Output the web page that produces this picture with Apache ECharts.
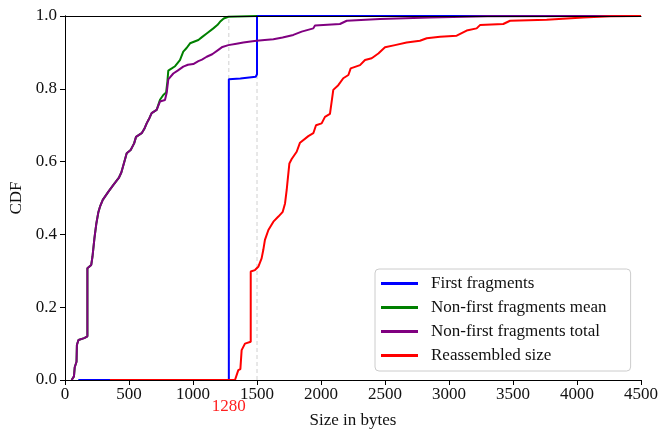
<!DOCTYPE html>
<html>
<head>
<meta charset="utf-8">
<script src="https://cdn.jsdelivr.net/npm/echarts@6/dist/echarts.min.js"></script>
<style>html,body{margin:0;padding:0;background:#fff}#c{width:660px;height:432px}</style>
</head>
<body>
<div id="c"></div>
<script>
const seriesNames = ['First fragments', 'Non-first fragments mean', 'Non-first fragments total', 'Reassembled size'];
const seriesColors = ['#0000ff', '#008000', '#800080', '#ff0000'];
const xTicks = [0, 500, 1000, 1500, 2000, 2500, 3000, 3500, 4000, 4500];
const yTicks = [0, 0.2, 0.4, 0.6, 0.8, 1.0];
const refLines = [1280, 1500];
const refLabel = [1280];

const firstX = [104, 1280, 1280, 1370, 1380, 1490, 1500, 1500, 4500];
const firstY = [0, 0, 0.826, 0.828, 0.832, 0.833, 0.840, 1.0, 1.0];

const totalX = [52,70,76,80,90,93,105,150,175,175,205,215,230,245,260,275,295,338,378,420,440,456,482,513,540,555,599,620,638,660,677,716,742,781,795,807,846,880,924,960,1002,1042,1070,1107,1150,1198,1230,1276,1340,1393,1450,1497,1560,1628,1700,1784,1849,1940,1953,2148,2201,2461,2852,3300,4500];
const totalY = [0,0.01,0.035,0.04,0.05,0.096,0.11,0.115,0.12,0.307,0.316,0.34,0.39,0.43,0.46,0.478,0.495,0.517,0.536,0.555,0.57,0.59,0.623,0.632,0.65,0.668,0.678,0.69,0.705,0.72,0.733,0.742,0.765,0.769,0.79,0.826,0.842,0.85,0.861,0.866,0.868,0.876,0.88,0.888,0.895,0.907,0.915,0.920,0.924,0.927,0.930,0.932,0.934,0.936,0.941,0.948,0.957,0.966,0.974,0.978,0.987,0.992,0.996,0.999,1.0];

const meanX = [52,70,76,80,90,93,105,150,175,175,205,215,230,245,260,275,295,338,378,420,440,456,482,513,540,555,599,620,638,660,677,716,742,768,790,800,807,834,860,898,924,950,977,1042,1070,1107,1159,1190,1211,1240,1276,1500];
const meanY = [0,0.01,0.035,0.04,0.05,0.096,0.11,0.115,0.12,0.307,0.316,0.34,0.39,0.43,0.46,0.478,0.495,0.517,0.536,0.555,0.57,0.59,0.623,0.632,0.65,0.668,0.678,0.69,0.705,0.72,0.733,0.742,0.770,0.783,0.79,0.82,0.850,0.856,0.862,0.879,0.902,0.912,0.925,0.934,0.942,0.952,0.966,0.975,0.984,0.993,0.998,1.0];

const reasmX = [351,1328,1354,1370,1380,1406,1451,1451,1484,1510,1536,1549,1562,1589,1628,1667,1701,1719,1732,1737,1753,1771,1810,1836,1901,1940,1961,2005,2031,2070,2096,2135,2174,2214,2232,2305,2344,2396,2448,2500,2578,2669,2773,2826,2930,3060,3073,3138,3216,3242,3424,3477,3763,4049,4258,4500];
const reasmY = [0,0,0.027,0.03,0.082,0.10,0.105,0.298,0.302,0.311,0.334,0.357,0.385,0.412,0.435,0.449,0.462,0.485,0.522,0.540,0.595,0.607,0.627,0.652,0.670,0.678,0.70,0.705,0.723,0.731,0.797,0.810,0.829,0.838,0.856,0.865,0.879,0.884,0.897,0.914,0.920,0.927,0.932,0.939,0.943,0.946,0.951,0.960,0.966,0.975,0.978,0.987,0.990,0.996,0.999,1.0];

const zip = (xs, ys) => xs.map((x, i) => [x, ys[i]]);
const allData = [zip(firstX, firstY), zip(meanX, meanY), zip(totalX, totalY), zip(reasmX, reasmY)];

const FONT = 'Liberation Serif';
const FS = 17;
const chart = echarts.init(document.getElementById('c'), null, {renderer: 'canvas'});

const series = refLines.map(v => ({
  type: 'line', data: [[v, yTicks[0]], [v, yTicks[yTicks.length - 1]]], silent: true, z: 1,
  showSymbol: false, symbol: 'none', xAxisIndex: 0, yAxisIndex: 0,
  lineStyle: {type: [4, 3], color: '#d0d0d0', width: 1}, animation: false
})).concat(seriesNames.map((name, i) => ({
  name, type: 'line', data: allData[i], showSymbol: false, symbol: 'none',
  xAxisIndex: 0, yAxisIndex: 0,
  lineStyle: {color: seriesColors[i], width: 2}, itemStyle: {color: seriesColors[i]},
  z: 3 + i, animation: false
})));

const spine = {show: true, lineStyle: {color: '#000', width: 1}};
chart.setOption({
  animation: false,
  grid: {left: 65, right: 19, top: 16, bottom: 52, containLabel: false, outerBoundsMode: 'none'},
  legend: {
    data: seriesNames,
    orient: 'vertical', left: 375, top: 269,
    icon: 'rect', itemWidth: 37, itemHeight: 3, itemGap: 7,
    padding: [6, 24, 7, 6],
    borderColor: '#cccccc', borderWidth: 1, borderRadius: 4, backgroundColor: '#fff',
    textStyle: {fontFamily: FONT, fontSize: FS, color: '#111', lineHeight: 17, padding: [0, 0, 0, 8]}
  },
  xAxis: [{
    type: 'value', min: xTicks[0], max: xTicks[xTicks.length - 1], interval: 500, z: 10,
    name: 'Size in bytes', nameLocation: 'middle', nameGap: 32,
    nameTextStyle: {fontFamily: FONT, fontSize: FS, color: '#111'},
    axisLine: spine,
    axisTick: {show: true, length: 5, inside: false, lineStyle: {color: '#000'}},
    axisLabel: {fontFamily: FONT, fontSize: FS, color: '#111', margin: 6, formatter: v => String(v)},
    splitLine: {show: false}
  }, {
    type: 'value', min: xTicks[0], max: xTicks[xTicks.length - 1], position: 'bottom',
    axisLine: {show: false}, axisTick: {show: false}, splitLine: {show: false},
    axisLabel: {customValues: refLabel, fontFamily: FONT, fontSize: FS, color: '#ff2020', margin: 18, formatter: v => String(v)}
  }, {
    type: 'value', min: xTicks[0], max: xTicks[xTicks.length - 1], position: 'top', z: 10,
    axisLine: spine, axisTick: {show: false}, axisLabel: {show: false}, splitLine: {show: false}
  }],
  yAxis: [{
    type: 'value', min: 0, max: 1, interval: 0.2, z: 10,
    name: 'CDF', nameLocation: 'middle', nameGap: 38, nameRotate: 90,
    nameTextStyle: {fontFamily: FONT, fontSize: FS, color: '#111'},
    axisLine: spine,
    axisTick: {show: true, length: 5, inside: false, lineStyle: {color: '#000'}},
    axisLabel: {fontFamily: FONT, fontSize: FS, color: '#111', margin: 8, formatter: v => v.toFixed(1)},
    splitLine: {show: false}
  }, {
    type: 'value', min: 0, max: 1, position: 'right', z: 10,
    axisLine: spine, axisTick: {show: false}, axisLabel: {show: false}, splitLine: {show: false}
  }],
  series
});
</script>
</body>
</html>
